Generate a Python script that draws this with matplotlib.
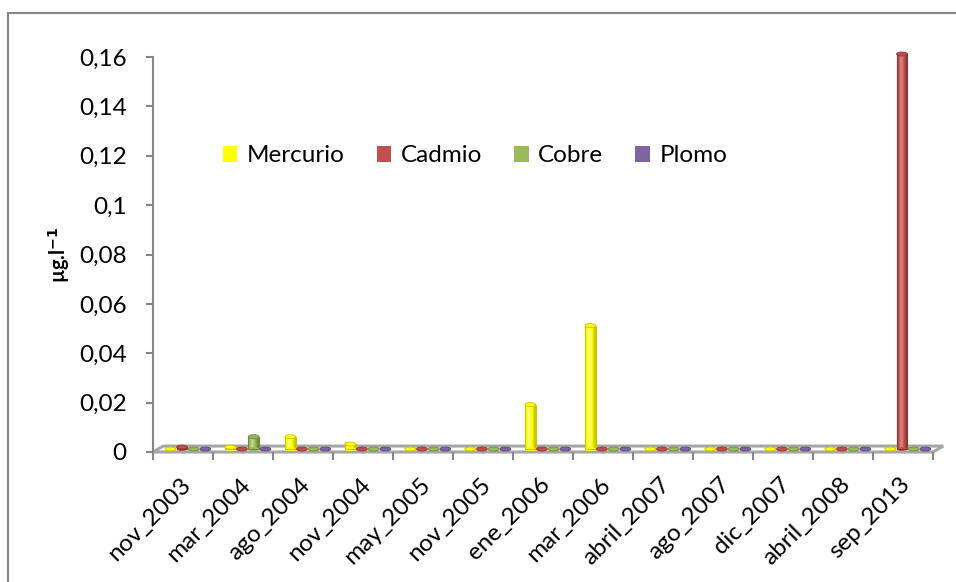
import matplotlib
matplotlib.use("Agg")
import matplotlib.pyplot as plt
import matplotlib.transforms as mtransforms
from matplotlib.patches import Rectangle, Ellipse, Polygon
import numpy as np

plt.rcParams['font.family'] = ['Lato', 'DejaVu Sans']

# ---- data ----
categories = ["nov_2003", "mar_2004", "ago_2004", "nov_2004", "may_2005", "nov_2005",
              "ene_2006", "mar_2006", "abril_2007", "ago_2007", "dic_2007", "abril_2008",
              "sep_2013"]
mercurio = [0.0, 0.0008, 0.005, 0.002, 0.0, 0.0, 0.018, 0.05, 0.0, 0.0, 0.0, 0.0, 0.0]
cadmio   = [0.0008, 0.0, 0.0, 0.0, 0.0, 0.0, 0.0, 0.0, 0.0, 0.0, 0.0, 0.0, 0.16]
cobre    = [0.0, 0.005, 0.0, 0.0, 0.0, 0.0, 0.0, 0.0, 0.0, 0.0, 0.0, 0.0, 0.0]
plomo    = [0.0] * 13
series_names = ["Mercurio", "Cadmio", "Cobre", "Plomo"]
series_values = [mercurio, cadmio, cobre, plomo]
y_ticks = [0, 0.02, 0.04, 0.06, 0.08, 0.1, 0.12, 0.14, 0.16]
y_tick_labels = ["0", "0,02", "0,04", "0,06", "0,08", "0,1", "0,12", "0,14", "0,16"]

# ---- style ----
face = ["#FFFF00", "#C0504D", "#9BBB59", "#8064A2"]
dark = ["#C8C800", "#8E3532", "#6E8A3C", "#5A4576"]
light = ["#FFFF80", "#D98B89", "#C3D89E", "#A995C4"]
axis_gray = "#868686"
fs = 17.5

W, H = 956, 582
fig = plt.figure(figsize=(W / 100, H / 100), dpi=100)
ax = fig.add_axes([153 / W, 1 - 452 / H, 780 / W, 395 / H])
ax.set_xlim(-0.5, 12.5)
ax.set_ylim(0, 0.16)

# outer chart frame
fig.patches.append(Rectangle((8 / W, -0.05), 1.2, 1 - 13 / H + 0.05,
                             transform=fig.transFigure, fill=False,
                             edgecolor=axis_gray, linewidth=1.5))

# floor of the pseudo-3D plot
depth_x, depth_y = 0.17, 0.0024
floor = Polygon([(-0.5, 0), (12.5, 0), (12.5 + depth_x, depth_y), (-0.5 + depth_x, depth_y)],
                closed=True, facecolor="white", edgecolor="#A6A6A6", linewidth=2.2,
                clip_on=False, zorder=1)
ax.add_patch(floor)

base = depth_y / 2
bar_w = 0.18
step = 0.195
x = np.arange(len(categories))
grad = np.linspace(0, 1, 64)
shade = np.clip(1 - np.abs(grad - 0.4) * 2.0, 0, 1)


def cylinder(cx, val, k):
    left = cx - bar_w / 2
    if val > 0:
        # body with horizontal shading
        cmap = matplotlib.colors.LinearSegmentedColormap.from_list(
            "c%d" % k, [dark[k], face[k], light[k]])
        im = ax.imshow(shade[np.newaxis, :], cmap=cmap, aspect="auto",
                       extent=(left, left + bar_w, base, base + val),
                       interpolation="bilinear", zorder=3, clip_on=False)
        body = Rectangle((left, base), bar_w, val, facecolor="none",
                         edgecolor=dark[k], linewidth=0.8, zorder=4, clip_on=False)
        ax.add_patch(body)
        im.set_clip_path(body)
        ax.add_patch(Ellipse((cx, base), bar_w, 0.0016, facecolor=face[k],
                             edgecolor="none", zorder=3, clip_on=False))
    ax.add_patch(Ellipse((cx, base + val), bar_w, 0.0016, facecolor=face[k],
                         edgecolor=dark[k], linewidth=0.6, zorder=5, clip_on=False))


for k, vals in enumerate(series_values):
    offs = (k - 1.5) * step + 0.08
    for i, v in enumerate(vals):
        cylinder(x[i] + offs, v, k)

# axes styling
for s in ["top", "right", "bottom"]:
    ax.spines[s].set_visible(False)
ax.spines["left"].set_color(axis_gray)
ax.spines["left"].set_linewidth(1.5)

ax.set_yticks(y_ticks)
ax.set_yticklabels(y_tick_labels, fontsize=fs)
ax.tick_params(axis="y", direction="out", length=5, width=1.5, color=axis_gray, pad=14)

ax.set_xticks(np.arange(-0.5, 13, 1.0))
ax.set_xticklabels([])
ax.tick_params(axis="x", which="major", direction="out", length=6, width=1.5, color=axis_gray)
ax.set_xticks(x, minor=True)
ax.set_xticklabels(categories, minor=True, fontsize=fs, rotation=45,
                   ha="right", va="center", rotation_mode="anchor")
ax.tick_params(axis="x", which="minor", length=0, pad=21)
offset = mtransforms.ScaledTranslation(4 / 100, 0, fig.dpi_scale_trans)
for lbl in ax.get_xticklabels(minor=True):
    lbl.set_transform(lbl.get_transform() + offset)

ax.set_ylabel("µg.l$^{\\mathbf{-1}}$", fontsize=14.5, fontweight="bold", labelpad=5)

# legend
handles = [Rectangle((0, 0), 1, 1, facecolor=c, edgecolor="none") for c in face]
fig.legend(handles, series_names, loc="center", bbox_to_anchor=(475 / W, 1 - 156 / H),
           ncol=4, frameon=False, fontsize=fs, handlelength=0.6, handleheight=0.6,
           handletextpad=0.4, columnspacing=1.3)

fig.savefig("out.png", dpi=100)
